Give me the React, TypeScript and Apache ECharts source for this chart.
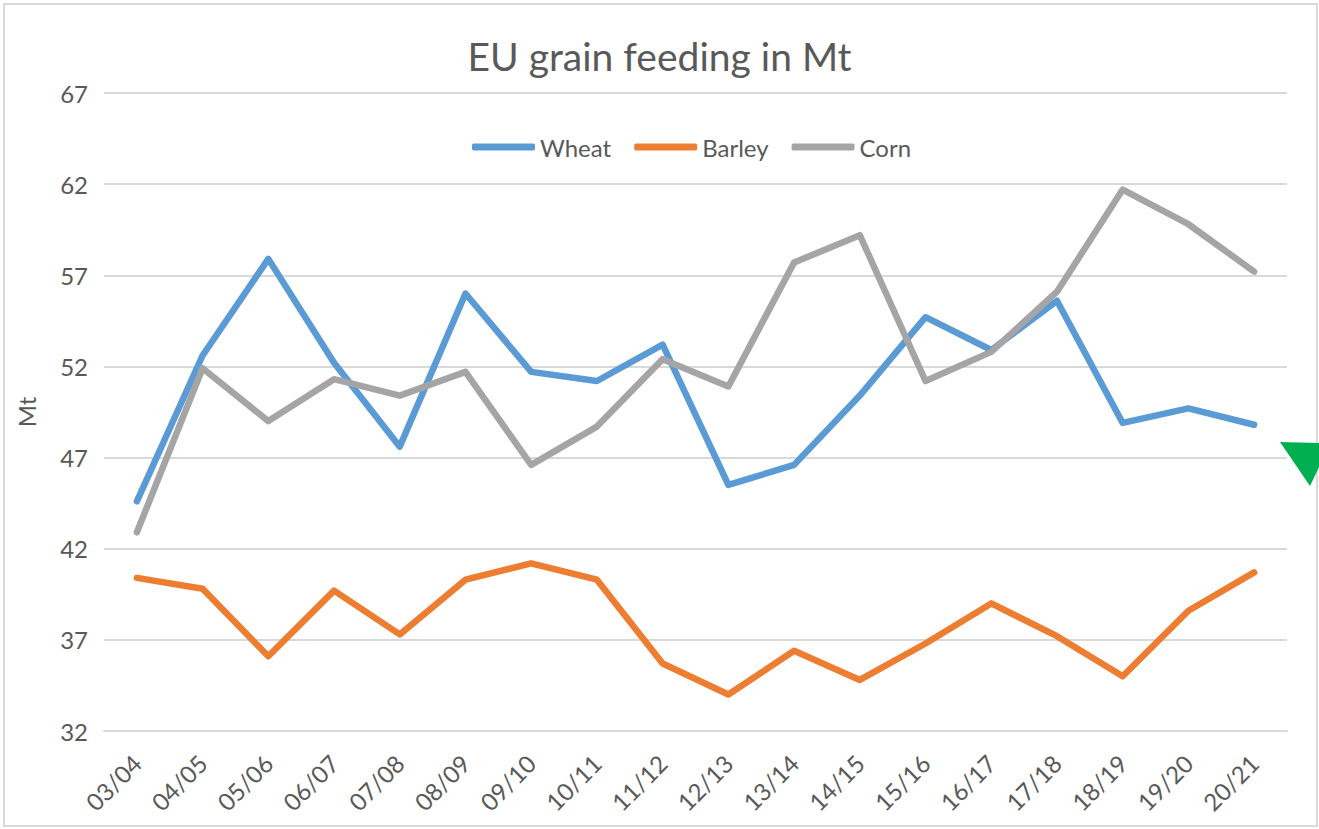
import React, { useEffect, useRef } from "react";
import * as echarts from "echarts";

const categories = ["03/04","04/05","05/06","06/07","07/08","08/09","09/10","10/11","11/12","12/13","13/14","14/15","15/16","16/17","17/18","18/19","19/20","20/21"];
const wheat = [44.6, 52.6, 57.9, 52.2, 47.6, 56.0, 51.7, 51.2, 53.2, 45.5, 46.6, 50.4, 54.7, 52.9, 55.6, 48.9, 49.7, 48.8];
const barley = [40.4, 39.8, 36.1, 39.7, 37.3, 40.3, 41.2, 40.3, 35.7, 34.0, 36.4, 34.8, 36.8, 39.0, 37.2, 35.0, 38.6, 40.7];
const corn = [42.9, 51.9, 49.0, 51.3, 50.4, 51.7, 46.6, 48.7, 52.4, 50.9, 57.7, 59.2, 51.2, 52.8, 56.1, 61.7, 59.8, 57.2];
const yTicks = [32, 37, 42, 47, 52, 57, 62, 67];

const FONT = "Lato";
const TEXT = "#595959";
const GRID = "#D9D9D9";

export default function App() {
  const ref = useRef<HTMLDivElement>(null);
  useEffect(() => {
    if (!ref.current) return;
    const chart = echarts.init(ref.current, undefined, { renderer: "svg" });
    const mkSeries = (name: string, data: number[], color: string) => ({
      name,
      type: "line",
      data,
      symbol: "none",
      showSymbol: false,
      lineStyle: { color, width: 6.5, cap: "round", join: "round" },
      itemStyle: { color },
      z: 2,
    });
    chart.setOption({
      animation: false,
      backgroundColor: "#ffffff",
      textStyle: { fontFamily: FONT },
      title: {
        text: "EU grain feeding in Mt",
        left: "center",
        top: 31,
        textStyle: { fontFamily: FONT, fontSize: 39, fontWeight: "normal", color: TEXT },
      },
      legend: {
        top: 130,
        left: 467,
        icon: "roundRect",
        itemWidth: 63,
        itemHeight: 7,
        itemGap: 23,
        textStyle: { fontFamily: FONT, fontSize: 24, color: TEXT },
        data: ["Wheat", "Barley", "Corn"],
      },
      grid: { left: 104, right: 32, top: 93, bottom: 98, containLabel: false },
      xAxis: {
        type: "category",
        data: categories,
        boundaryGap: true,
        axisLine: { show: true, lineStyle: { color: GRID, width: 2 } },
        axisTick: { show: false },
        axisLabel: { rotate: 45, fontFamily: FONT, fontSize: 24, color: TEXT, margin: 28 },
        splitLine: { show: false },
      },
      yAxis: {
        type: "value",
        min: 32,
        max: 67,
        name: "Mt",
        nameLocation: "middle",
        nameGap: 66,
        nameRotate: 90,
        nameTextStyle: { fontFamily: FONT, fontSize: 24, color: TEXT },
        axisLine: { show: false },
        axisTick: { show: false, customValues: yTicks },
        axisLabel: { fontFamily: FONT, fontSize: 24, color: TEXT, margin: 16, customValues: yTicks },
        splitLine: { show: true, lineStyle: { color: GRID, width: 2 } },
      },
      series: [
        mkSeries("Wheat", wheat, "#5B9BD5"),
        mkSeries("Barley", barley, "#ED7D31"),
        mkSeries("Corn", corn, "#A5A5A5"),
      ],
      graphic: [
        {
          type: "rect",
          shape: { x: 4, y: 4, width: 1313, height: 822 },
          style: { fill: "none", stroke: GRID, lineWidth: 2 },
          silent: true,
          z: 100,
        },
        {
          type: "polygon",
          shape: { points: [[1280, 442], [1319, 443], [1319, 467], [1310, 486]] },
          style: { fill: "#00B050" },
          silent: true,
          z: 101,
        },
      ],
    });
    return () => chart.dispose();
  }, []);
  return (
    <div
      ref={ref}
      style={{ position: "fixed", left: 0, top: 0, width: 1319, height: 829, background: "#fff" }}
    />
  );
}
